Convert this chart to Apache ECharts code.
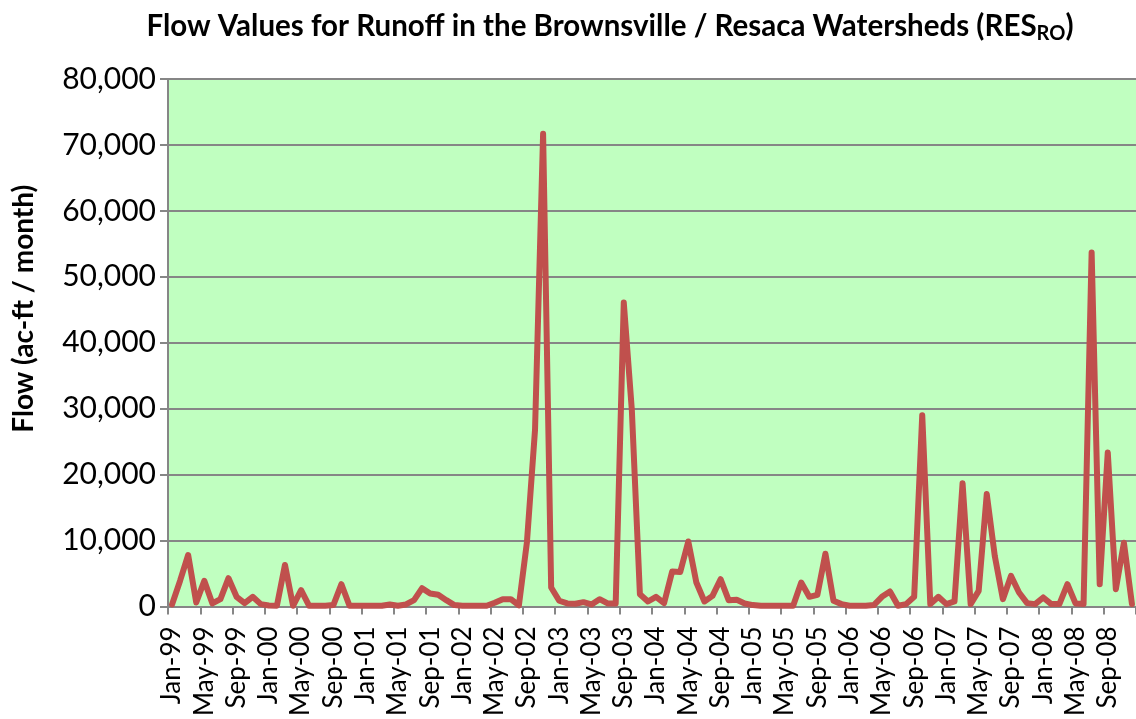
<!DOCTYPE html>
<html><head><meta charset="utf-8">
<script src="https://cdn.jsdelivr.net/npm/echarts@6/dist/echarts.min.js"></script>
<style>html,body{margin:0;padding:0;background:#fff}#c{width:1136px;height:719px}</style>
</head><body><div id="c"></div>
<script>
const monthNames = ['Jan','Feb','Mar','Apr','May','Jun','Jul','Aug','Sep','Oct','Nov','Dec'];
const years = ['99','00','01','02','03','04','05','06','07','08'];
const categories = [];
years.forEach(y => monthNames.forEach(m => categories.push(m + '-' + y)));

const flow1999 = [300, 3900, 7800, 600, 3880, 450, 1100, 4280, 1460, 500, 1460, 350];
const flow2000 = [150, 100, 6290, 100, 2470, 100, 100, 100, 200, 3370, 100, 100];
const flow2001 = [100, 100, 100, 300, 100, 300, 950, 2770, 1960, 1760, 950, 200];
const flow2002 = [100, 100, 100, 100, 550, 1100, 1100, 150, 9800, 26800, 71700, 2870];
const flow2003 = [860, 450, 400, 650, 300, 1100, 450, 450, 46100, 29800, 1860, 750];
const flow2004 = [1460, 500, 5280, 5230, 9850, 3620, 750, 1600, 4130, 950, 1000, 450];
const flow2005 = [200, 100, 100, 100, 100, 100, 3620, 1460, 1760, 8000, 850, 350];
const flow2006 = [100, 100, 100, 200, 1460, 2260, 100, 350, 1460, 29000, 350, 1460];
const flow2007 = [350, 750, 18700, 350, 2360, 17050, 7600, 1100, 4630, 2110, 500, 350];
const flow2008 = [1360, 350, 350, 3370, 450, 350, 53700, 3370, 23350, 2620, 9660, 350];
const flowValues = [].concat(flow1999, flow2000, flow2001, flow2002, flow2003,
  flow2004, flow2005, flow2006, flow2007, flow2008);

const yTicks = { min: 0, max: 80000, interval: 10000 };
const FONT = 'Lato';

const chart = echarts.init(document.getElementById('c'), null, { renderer: 'canvas' });
chart.setOption({
  animation: false,
  backgroundColor: '#ffffff',
  title: {
    text: 'Flow Values for Runoff in the Brownsville / Resaca Watersheds (RES{sub|RO})',
    left: 605, top: 3, textAlign: 'center',
    textStyle: {
      fontFamily: FONT, fontWeight: 'bold', fontSize: 29.5, color: '#000',
      rich: { sub: { fontFamily: FONT, fontWeight: 'bold', fontSize: 20, color: '#000', padding: [16, 0, 0, 0] } }
    }
  },
  grid: { left: 168, top: 79, width: 971, height: 530, backgroundColor: '#C0FFC0', show: true, borderWidth: 0 },
  xAxis: {
    type: 'category', data: categories, boundaryGap: true,
    axisLine: { show: true, lineStyle: { color: '#868686', width: 2 } },
    axisTick: { show: true, interval: 3, length: 8, lineStyle: { color: '#868686', width: 2 } },
    axisLabel: { interval: 3, rotate: 90, margin: 20, fontFamily: FONT, fontSize: 26, color: '#000' },
    splitLine: { show: false }
  },
  yAxis: {
    type: 'value', min: yTicks.min, max: yTicks.max, interval: yTicks.interval,
    name: 'Flow (ac-ft / month)', nameLocation: 'middle', nameGap: 130,
    nameTextStyle: { fontFamily: FONT, fontWeight: 'bold', fontSize: 28, color: '#000', padding: [0, 0, 0, 68] },
    axisLine: { show: true, lineStyle: { color: '#868686', width: 2 } },
    axisTick: { show: true, length: 8, lineStyle: { color: '#868686', width: 2 } },
    axisLabel: { margin: 12, fontFamily: FONT, fontSize: 30, color: '#000',
      formatter: v => v.toLocaleString('en-US') },
    splitLine: { show: true, lineStyle: { color: '#868686', width: 2 } }
  },
  series: [{
    type: 'line', data: flowValues, showSymbol: false, symbol: 'none',
    lineStyle: { color: '#C0504D', width: 6, join: 'round', cap: 'round' },
    itemStyle: { color: '#C0504D' }
  }]
});
</script></body></html>
